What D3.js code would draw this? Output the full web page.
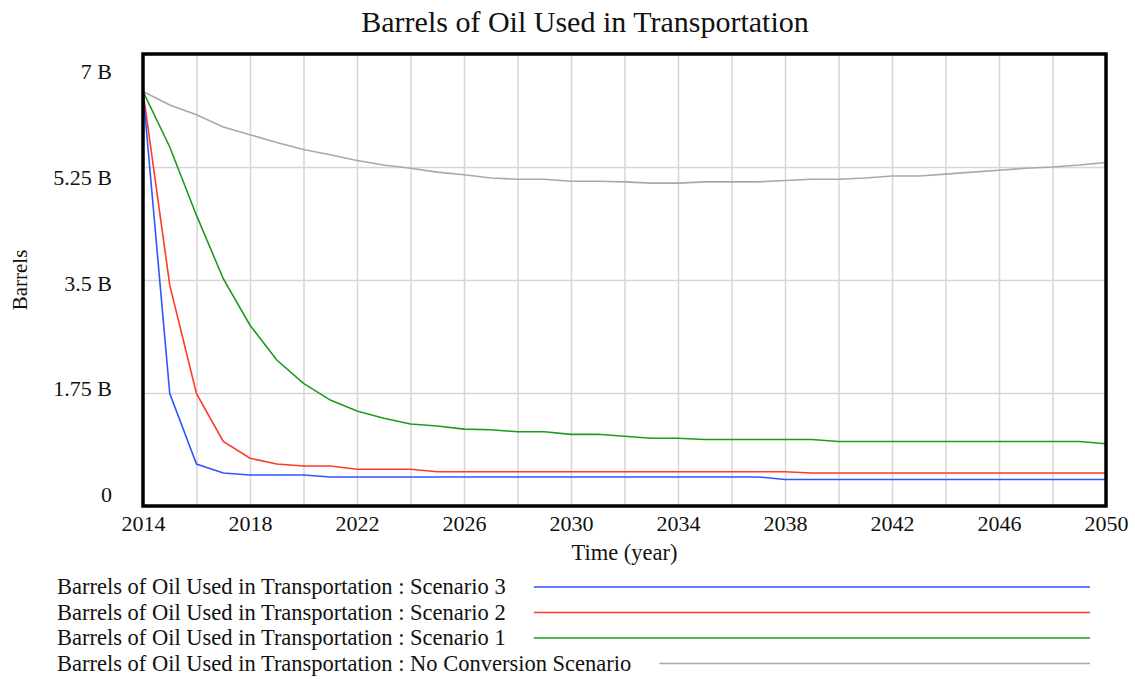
<!DOCTYPE html>
<html>
<head>
<meta charset="utf-8">
<script src="https://cdn.jsdelivr.net/npm/d3@7"></script>
<style>
  body { margin: 0; background: #fff; }
</style>
</head>
<body>
<div id="chart"></div>
<script>
// years 2014..2050, values in billions of barrels
var years = d3.range(2014, 2051);
var noConversion = [6.42, 6.21, 6.06, 5.87, 5.75, 5.63, 5.52, 5.44, 5.35, 5.28, 5.23, 5.17, 5.13, 5.08, 5.06, 5.06, 5.03, 5.03, 5.02, 5.00, 5.00, 5.02, 5.02, 5.02, 5.04, 5.06, 5.06, 5.08, 5.11, 5.11, 5.14, 5.17, 5.20, 5.23, 5.25, 5.28, 5.32];
var scenario1 = [6.42, 5.56, 4.50, 3.52, 2.80, 2.26, 1.90, 1.64, 1.47, 1.36, 1.27, 1.24, 1.19, 1.18, 1.15, 1.15, 1.11, 1.11, 1.08, 1.05, 1.05, 1.03, 1.03, 1.03, 1.03, 1.03, 1.00, 1.00, 1.00, 1.00, 1.00, 1.00, 1.00, 1.00, 1.00, 1.00, 0.965];
var scenario2 = [6.42, 3.42, 1.74, 1.00, 0.74, 0.65, 0.62, 0.62, 0.57, 0.57, 0.57, 0.53, 0.53, 0.53, 0.53, 0.53, 0.53, 0.53, 0.53, 0.53, 0.53, 0.53, 0.53, 0.53, 0.53, 0.51, 0.51, 0.51, 0.51, 0.51, 0.51, 0.51, 0.51, 0.51, 0.51, 0.51, 0.51];
var scenario3 = [6.42, 1.74, 0.65, 0.51, 0.48, 0.48, 0.48, 0.45, 0.45, 0.45, 0.45, 0.45, 0.45, 0.45, 0.45, 0.45, 0.45, 0.45, 0.45, 0.45, 0.45, 0.45, 0.45, 0.45, 0.41, 0.41, 0.41, 0.41, 0.41, 0.41, 0.41, 0.41, 0.41, 0.41, 0.41, 0.41, 0.41];

var xTicks = d3.range(2014, 2051, 4);
var xGrid = d3.range(2014, 2051, 2);
var yTicks = [0, 1.75, 3.5, 5.25, 7];
var yTickLabels = ["0", "1.75 B", "3.5 B", "5.25 B", "7 B"];

var seriesNames = ["Barrels of Oil Used in Transportation : Scenario 3",
                   "Barrels of Oil Used in Transportation : Scenario 2",
                   "Barrels of Oil Used in Transportation : Scenario 1",
                   "Barrels of Oil Used in Transportation : No Conversion Scenario"];
var seriesValues = [scenario3, scenario2, scenario1, noConversion];
var seriesColors = ["#2f55ff", "#ff3a26", "#1e9a1e", "#a9a9a9"];

var width = 1135, height = 679;
var margin = {top: 54, right: 29, bottom: 173, left: 143};
var plotW = width - margin.left - margin.right;
var plotH = height - margin.top - margin.bottom;
var serif = "'Liberation Serif', 'Times New Roman', serif";

var svg = d3.select("#chart").append("svg")
    .attr("width", width)
    .attr("height", height)
    .style("font-family", serif);

var x = d3.scaleLinear().domain([2014, 2050]).range([0, plotW]);
var y = d3.scaleLinear().domain([0, 7]).range([plotH, 0]);
// tick labels are spread inside the box, not on the grid lines
var yLabel = d3.scaleLinear().domain([0, 7]).range([plotH - 12, 17]);

var g = svg.append("g").attr("transform", "translate(" + margin.left + "," + margin.top + ")");

// grid
g.append("g")
    .attr("transform", "translate(0," + plotH + ")")
    .call(d3.axisBottom(x).tickValues(xGrid).tickSize(-plotH).tickFormat(""))
    .call(function(a){ a.select(".domain").remove(); a.selectAll("line").attr("stroke", "#d6d6d6").attr("stroke-width", 1.5); });
g.append("g")
    .call(d3.axisLeft(y).tickValues(yTicks).tickSize(-plotW).tickFormat(""))
    .call(function(a){ a.select(".domain").remove(); a.selectAll("line").attr("stroke", "#d6d6d6").attr("stroke-width", 1.5); });

// lines
var line = d3.line()
    .x(function(d, i){ return x(years[i]); })
    .y(function(d){ return y(d); });

for (var k = seriesValues.length - 1; k >= 0; k--) {
    g.append("path")
        .datum(seriesValues[k])
        .attr("fill", "none")
        .attr("stroke", seriesColors[k])
        .attr("stroke-width", 1.6)
        .attr("d", line);
}

// frame
g.append("rect")
    .attr("width", plotW).attr("height", plotH)
    .attr("fill", "none").attr("stroke", "#000").attr("stroke-width", 3.5);

// tick labels
g.append("g")
    .attr("transform", "translate(0," + (plotH + 6) + ")")
    .call(d3.axisBottom(x).tickValues(xTicks).tickSize(0).tickFormat(d3.format("d")))
    .call(function(a){ a.select(".domain").remove(); a.selectAll("text").attr("font-family", serif).style("font-size", "22px").attr("fill", "#111"); });
g.append("g")
    .attr("transform", "translate(-28,0)")
    .call(d3.axisLeft(yLabel).tickValues(yTicks).tickSize(0).tickFormat(function(d, i){ return yTickLabels[i]; }))
    .call(function(a){ a.select(".domain").remove(); a.selectAll("text").attr("font-family", serif).style("font-size", "22px").attr("fill", "#111").attr("dy", "0.35em"); });

// title and axis titles
svg.append("text")
    .attr("x", 585).attr("y", 32)
    .attr("text-anchor", "middle")
    .attr("font-family", serif)
    .style("font-size", "30px")
    .attr("fill", "#111")
    .text("Barrels of Oil Used in Transportation");
svg.append("text")
    .attr("x", margin.left + plotW / 2).attr("y", 560)
    .attr("text-anchor", "middle")
    .attr("font-family", serif)
    .style("font-size", "22.5px")
    .attr("fill", "#111")
    .text("Time (year)");
svg.append("text")
    .attr("transform", "translate(27,280) rotate(-90)")
    .attr("text-anchor", "middle")
    .attr("font-family", serif)
    .style("font-size", "21px")
    .attr("fill", "#111")
    .text("Barrels");

// legend
var legend = svg.append("g");
seriesNames.forEach(function(name, i){
    var yy = 594 + i * 25.5;
    var t = legend.append("text")
        .attr("x", 57).attr("y", yy)
        .attr("font-family", serif)
        .style("font-size", "22.5px")
        .attr("fill", "#111")
        .text(name);
    var end = 57 + t.node().getComputedTextLength();
    legend.append("line")
        .attr("x1", end + 28).attr("x2", 1090)
        .attr("y1", yy - 7).attr("y2", yy - 7)
        .attr("stroke", seriesColors[i]).attr("stroke-width", 1.6);
});
</script>
</body>
</html>
